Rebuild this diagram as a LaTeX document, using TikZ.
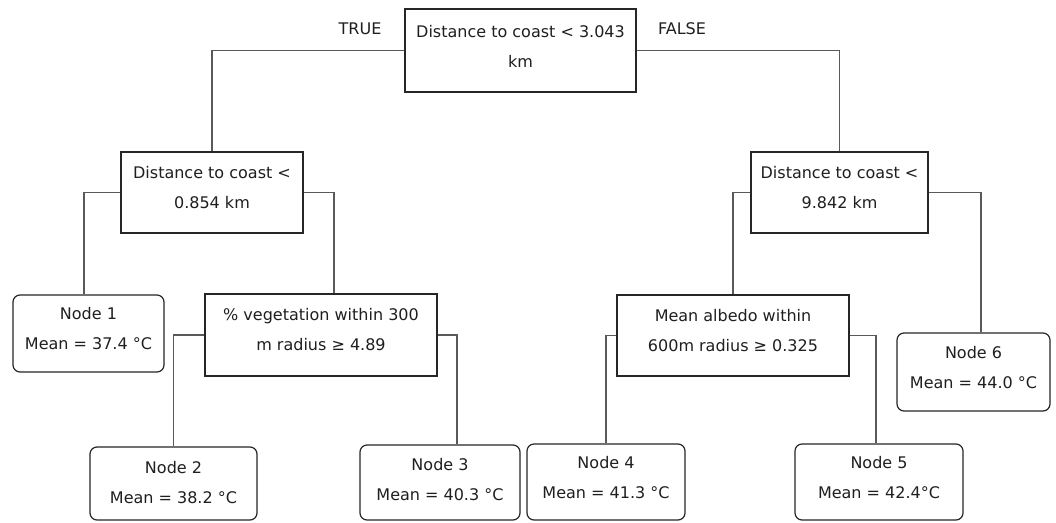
\documentclass[tikz,border=0pt]{standalone}
\usepackage{fontspec}
\setmainfont{DejaVu Sans}
\begin{document}
\begin{tikzpicture}[x=1pt,y=-1pt,
  box/.style={draw=black!85, line width=1.2pt, inner sep=0pt, fill=white},
  leaf/.style={box, rounded corners=7pt},
  txt/.style={align=center, inner sep=0pt, anchor=north, font=\fontsize{16}{30}\selectfont, text=black!88},
  link/.style={draw=black!65, line width=1.4pt}]
\useasboundingbox[fill=white] (0,0) rectangle (1056,522);

% boxes
\node[box,  minimum width=231, minimum height=83] (root) at (520.5,50.5) {};
\node[box,  minimum width=182, minimum height=81] (L1)   at (212,192.5) {};
\node[box,  minimum width=177, minimum height=81] (R1)   at (839.5,192.5) {};
\node[leaf, minimum width=151, minimum height=77] (n1)   at (88.5,333.5) {};
\node[box,  minimum width=232, minimum height=82] (veg)  at (321,335) {};
\node[box,  minimum width=232, minimum height=81] (alb)  at (733,335.5) {};
\node[leaf, minimum width=153, minimum height=78] (n6)   at (973.5,372) {};
\node[leaf, minimum width=167, minimum height=73] (n2)   at (173.5,483.5) {};
\node[leaf, minimum width=160, minimum height=75] (n3)   at (440,482.5) {};
\node[leaf, minimum width=158, minimum height=76] (n4)   at (606,482) {};
\node[leaf, minimum width=168, minimum height=76] (n5)   at (879,482) {};

% connectors
\draw[link] (root.west) -| (L1.north);
\draw[link] (root.east) -| (R1.north);
\draw[link] (L1.west) -| ([xshift=-4.5pt]n1.north);
\draw[link] (L1.east) -| ([xshift=13pt]veg.north);
\draw[link] (veg.west) -| (n2.north);
\draw[link] (veg.east) -| ([xshift=17pt]n3.north);
\draw[link] (R1.west) -| (alb.north);
\draw[link] (R1.east) -| ([xshift=7.5pt]n6.north);
\draw[link] (alb.west) -| (n4.north);
\draw[link] (alb.east) -| ([xshift=-3pt]n5.north);

% texts
\node[txt] (root-t) at (520.5,24.8) {Distance to coast < 3.043\\km};
\node[txt] (L1-t)   at (212,165.8) {Distance to coast <\\0.854 km};
\node[txt] (R1-t)   at (839.5,165.8) {Distance to coast <\\9.842 km};
\node[txt] (n1-t)   at (88.5,306.8) {Node 1\\Mean = 37.4 °C};
\node[txt] (veg-t)  at (321,307.8) {\% vegetation within 300\\m radius ≥ 4.89};
\node[txt] (alb-t)  at (733,308.8) {Mean albedo within\\600m radius ≥ 0.325};
\node[txt] (n6-t)   at (973.5,345.8) {Node 6\\Mean = 44.0 °C};
\node[txt] (n2-t)   at (173.5,460.8) {Node 2\\Mean = 38.2 °C};
\node[txt] (n3-t)   at (440,457.8) {Node 3\\Mean = 40.3 °C};
\node[txt] (n4-t)   at (606,455.8) {Node 4\\Mean = 41.3 °C};
\node[txt] (n5-t)   at (879,455.8) {Node 5\\Mean = 42.4°C};

\node[txt] (true)  at (360,22.3) {TRUE};
\node[txt] (false) at (682,22.3) {FALSE};
\end{tikzpicture}
\end{document}
